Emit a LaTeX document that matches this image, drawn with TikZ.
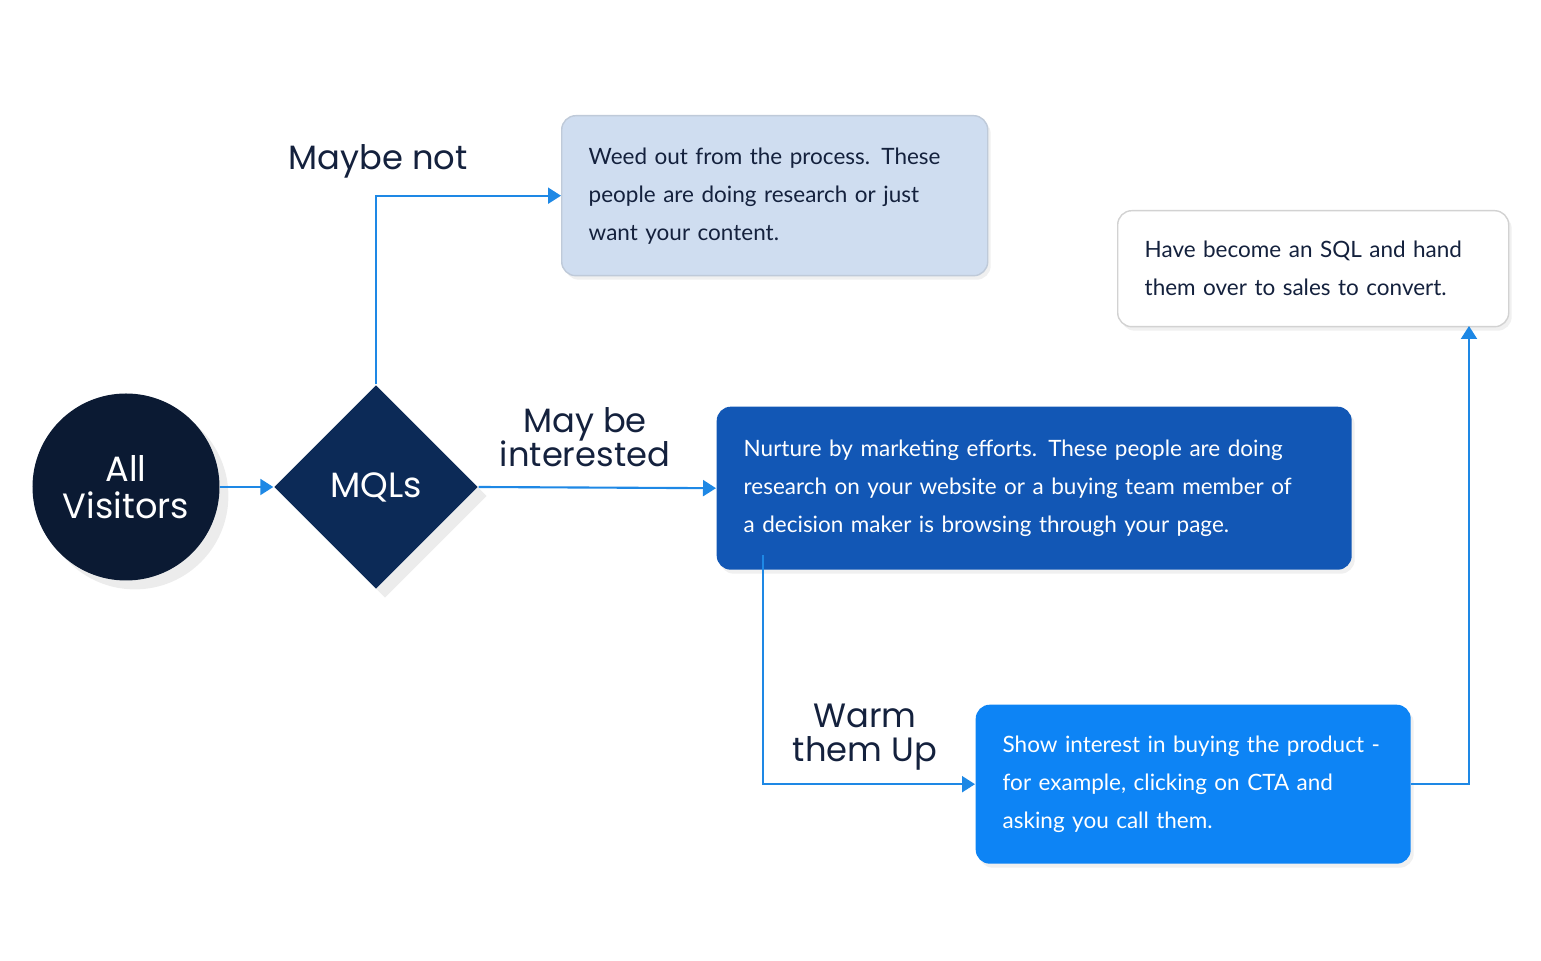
\documentclass[tikz,border=0pt]{standalone}
\usepackage{fontspec}
\setmainfont{Lato}
\newfontfamily\headfont{Poppins}
\usetikzlibrary{shapes, arrows.meta, positioning, shadows}
\definecolor{navy}{HTML}{0B1A33}
\definecolor{mql}{HTML}{0C2A57}
\definecolor{paleblue}{HTML}{CFDDF0}
\definecolor{midblue}{HTML}{1257B5}
\definecolor{brightblue}{HTML}{0D84F5}
\definecolor{linkblue}{HTML}{1E88E5}
\definecolor{ink}{HTML}{14213D}

\tikzset{
  stage/.style={rounded corners=4pt, inner xsep=0.27cm, align=left, anchor=north west,
    font=\fontsize{6.4}{10.8}\selectfont, drop shadow={opacity=0.12, shadow xshift=0.03cm, shadow yshift=-0.04cm}},
  branch/.style={font=\headfont\fontsize{9.6}{9.8}\selectfont, text=ink, align=center},
  flow/.style={linkblue, line width=0.6pt, -{Triangle[length=0.13cm, width=0.16cm]}}
}

\begin{document}
\begin{tikzpicture}[x=1cm, y=1cm]
      \useasboundingbox (0,0) rectangle (15.41,9.61);

      \node[circle, fill=navy, minimum size=1.87cm, text=white, align=center,
            font=\headfont\fontsize{10}{10.4}\selectfont,
            drop shadow={opacity=0.15}] (visitors) at (1.26,4.74) {All\\Visitors};
      \node[diamond, fill=mql, minimum size=2.04cm, inner sep=0pt, text=white,
            font=\headfont\fontsize{10}{10.4}\selectfont,
            drop shadow={opacity=0.15}] (mqls) at (3.76,4.74) {MQLs};

      \node[stage, fill=paleblue, draw=paleblue!80!gray, text=ink, text width=3.72cm,
            minimum height=1.60cm] (weed) at (5.61,8.46)
        {Weed out from the process. These\\people are doing research or just\\want your content.};
      \node[stage, fill=white, draw=gray!35, text=ink, text width=3.37cm,
            minimum height=1.16cm] (sql) at (11.17,7.51)
        {Have become an SQL and hand\\them over to sales to convert.};
      \node[stage, fill=midblue, text=white, text width=5.81cm,
            minimum height=1.63cm] (nurture) at (7.16,5.55)
        {Nurture by marketing efforts. These people are doing\\research on your website or a buying team member of\\a decision maker is browsing through your page.};
      \node[stage, fill=brightblue, text=white, text width=3.81cm,
            minimum height=1.59cm] (interest) at (9.75,2.57)
        {Show interest in buying the product -\\for example, clicking on CTA and\\asking you call them.};

      \node[branch] (maybe)  at (3.78,8.00) {Maybe not};
      \node[branch] (inter)  at (5.85,5.24) {May be\\interested};
      \node[branch] (warm)   at (8.65,2.24) {Warm\\them Up};

      \coordinate (nurtureout) at (7.63,4.06);
      \coordinate (sqlin) at (14.69,6.35);

      \draw[flow] (visitors) -- (mqls);
      \draw[flow] (mqls.north) |- (weed.west);
      \draw[flow] (mqls.east) -- (nurture.west);
      \draw[flow] (nurtureout) |- (interest.west);
      \draw[flow] (interest.east) -| (sqlin);
\end{tikzpicture}
\end{document}
